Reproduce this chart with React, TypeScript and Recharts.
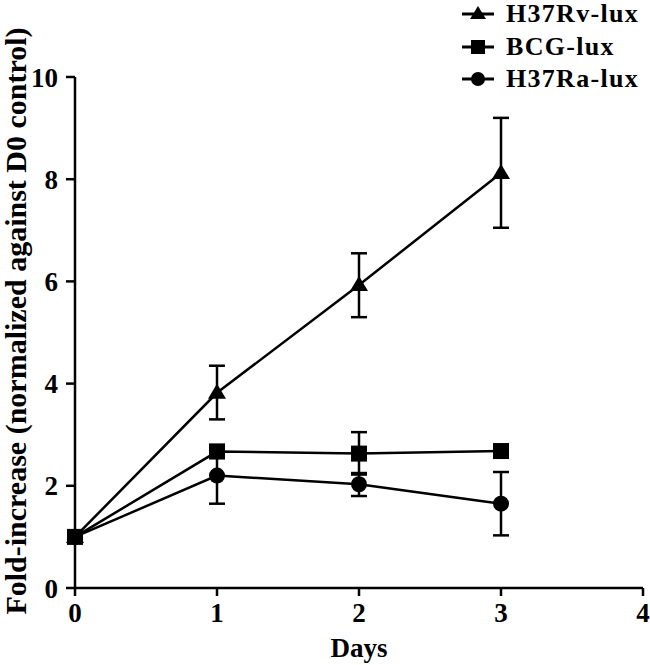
import React from 'react';
import { LineChart, Line, XAxis, YAxis, ErrorBar } from 'recharts';

const days = [0, 1, 2, 3];
const rvMean = [1.0, 3.82, 5.93, 8.12];
const rvLow = [1.0, 3.3, 5.3, 7.05];
const rvHigh = [1.0, 4.35, 6.55, 9.2];
const bcgMean = [1.0, 2.67, 2.63, 2.68];
const bcgLow = [1.0, 2.55, 2.22, 2.62];
const bcgHigh = [1.0, 2.8, 3.05, 2.74];
const raMean = [1.0, 2.2, 2.03, 1.65];
const raLow = [1.0, 1.65, 1.8, 1.03];
const raHigh = [1.0, 2.55, 2.25, 2.27];
const xTicks = [0, 1, 2, 3, 4];
const yTicks = [0, 2, 4, 6, 8, 10];
const seriesNames = ['H37Rv-lux', 'BCG-lux', 'H37Ra-lux'];

const data = days.map((d, i) => ({
  day: d,
  rv: rvMean[i],
  rvErr: [rvMean[i] - rvLow[i], rvHigh[i] - rvMean[i]],
  bcg: bcgMean[i],
  bcgErr: [bcgMean[i] - bcgLow[i], bcgHigh[i] - bcgMean[i]],
  ra: raMean[i],
  raErr: [raMean[i] - raLow[i], raHigh[i] - raMean[i]],
}));

const FONT = '"Liberation Serif", "Times New Roman", serif';

function Marker({ shape, cx, cy, s = 8 }: { shape: string; cx: number; cy: number; s?: number }) {
  if (shape === 'triangle') {
    return <polygon points={`${cx},${cy - s - 1} ${cx - s - 1},${cy + s - 2} ${cx + s + 1},${cy + s - 2}`} fill="#000" />;
  }
  if (shape === 'square') {
    return <rect x={cx - s} y={cy - s} width={2 * s} height={2 * s} fill="#000" />;
  }
  return <circle cx={cx} cy={cy} r={s} fill="#000" />;
}

const makeDot = (shape: string) => (props: any) => {
  const { cx, cy, index } = props;
  if (cx == null || cy == null) return <g key={`${shape}-${index}`} />;
  return <Marker key={`${shape}-${index}`} shape={shape} cx={cx} cy={cy} />;
};

const legendShapes = ['triangle', 'square', 'circle'];

function LegendBox() {
  return (
    <div
      style={{
        position: 'absolute',
        top: -2,
        left: 462,
        fontFamily: FONT,
        fontWeight: 'bold',
        fontSize: 26,
        letterSpacing: 1.3,
        lineHeight: '32px',
      }}
    >
      {seriesNames.map((n, i) => (
        <div key={n} style={{ display: 'flex', alignItems: 'center', height: 32.5 }}>
          <svg width={44} height={24}>
            <line x1={0} y1={12} x2={32} y2={12} stroke="#000" strokeWidth={3} />
            <Marker shape={legendShapes[i]} cx={16} cy={12} s={7} />
          </svg>
          <span>{n}</span>
        </div>
      ))}
    </div>
  );
}

function YLabel() {
  return (
    <text
      x={0}
      y={0}
      transform="translate(26, 321) rotate(-90)"
      textAnchor="middle"
      fill="#000"
      style={{ fontSize: 30, fontWeight: 'bold', fontFamily: FONT }}
    >
      Fold-increase (normalized against D0 control)
    </text>
  );
}

export default function App() {
  const tickStyle = { fill: '#000', fontSize: 27, fontWeight: 'bold', fontFamily: FONT };
  return (
    <div style={{ position: 'absolute', left: 0, top: 0, width: 650, height: 665, background: '#fff' }}>
      <LineChart width={650} height={665} data={data} margin={{ top: 77, right: 7, bottom: 5, left: 0 }}>
        <XAxis
          dataKey="day"
          type="number"
          domain={[0, 4]}
          ticks={xTicks}
          axisLine={{ stroke: '#000', strokeWidth: 2.5 }}
          tickLine={{ stroke: '#000', strokeWidth: 2.5 }}
          tickSize={8}
          tickMargin={7}
          tick={tickStyle}
          height={72}
          label={{ value: 'Days', position: 'insideBottom', offset: 3, style: { ...tickStyle, fontSize: 27 } }}
        />
        <YAxis
          type="number"
          domain={[0, 10]}
          ticks={yTicks}
          axisLine={{ stroke: '#000', strokeWidth: 2.5 }}
          tickLine={{ stroke: '#000', strokeWidth: 2.5 }}
          tickSize={9}
          tickMargin={8}
          tick={tickStyle}
          width={75}
          label={<YLabel />}
        />
        <Line dataKey="rv" stroke="#000" strokeWidth={2.5} isAnimationActive={false} dot={makeDot('triangle')}>
          <ErrorBar dataKey="rvErr" direction="y" width={8} stroke="#000" strokeWidth={2.5} isAnimationActive={false} />
        </Line>
        <Line dataKey="ra" stroke="#000" strokeWidth={2.5} isAnimationActive={false} dot={makeDot('circle')}>
          <ErrorBar dataKey="raErr" direction="y" width={8} stroke="#000" strokeWidth={2.5} isAnimationActive={false} />
        </Line>
        <Line dataKey="bcg" stroke="#000" strokeWidth={2.5} isAnimationActive={false} dot={makeDot('square')}>
          <ErrorBar dataKey="bcgErr" direction="y" width={8} stroke="#000" strokeWidth={2.5} isAnimationActive={false} />
        </Line>
      </LineChart>
      <LegendBox />
    </div>
  );
}
